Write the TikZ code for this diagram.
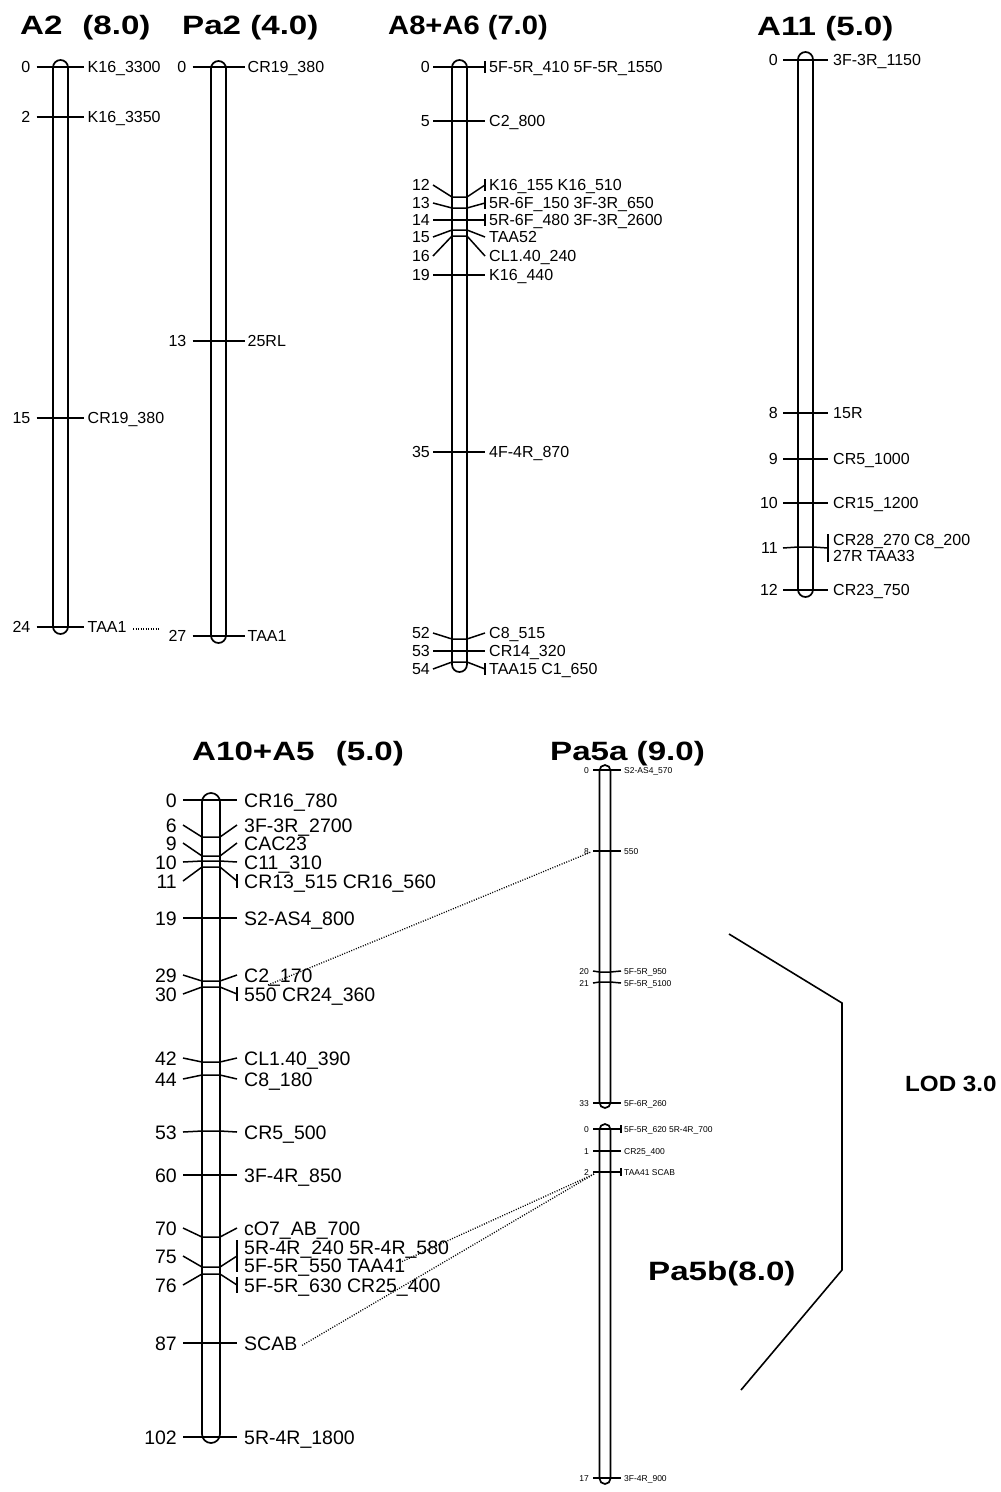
\documentclass[tikz,border=0pt]{standalone}
\usepackage{fontspec}
\setmainfont{Liberation Sans}
\newfontfamily\titlefont{Liberation Sans}[FakeStretch=1.25]
\newfontfamily\titlefontn{Liberation Sans}[FakeStretch=1.1]
\newfontfamily\lodfont{Liberation Sans}[FakeStretch=1.1]
\newcommand\mk[6]{%
  \draw[tick] (\mcx-\mtl,#3) -- (\mcx-\mhw,#2) -- (\mcx+\mhw,#2) -- (\mcx+\mtr,#3);
  \node[curnum] (n#1) at (\mcx-\mtl-\mng,#3) {#4};
  \ifnum#6>0\relax \draw[tick] (\mcx+\mtr,#3-#6) -- (\mcx+\mtr,#3+#6);\fi
  \node[curlab] (l#1) at (\mcx+\mtr+\mlg,#3) {#5};
}
\newcommand\chrpar[7]{\def\mcx{#1}\def\mhw{#2}\def\mtl{#3}\def\mng{#4}\def\mtr{#5}\def\mlg{#6}%
  \tikzset{curnum/.style={num#7}, curlab/.style={lab#7}}}
\begin{document}
\begin{tikzpicture}[x=1pt,y=-1pt,
  chrbar/.style={draw, line width=1.7pt, inner sep=0pt},
  tick/.style={line width=1.5pt},
  numA/.style={font=\fontsize{16}{16}\selectfont, inner sep=0pt, text height=11.5pt, text depth=0pt, anchor=east},
  labA/.style={font=\fontsize{16}{16}\selectfont, inner sep=0pt, text height=11.5pt, text depth=0pt, anchor=west},
  numB/.style={font=\fontsize{19.5}{19.5}\selectfont, inner sep=0pt, text height=14pt, text depth=0pt, anchor=east},
  labB/.style={font=\fontsize{19.5}{19.5}\selectfont, inner sep=0pt, text height=14pt, text depth=0pt, anchor=west},
  numC/.style={font=\fontsize{8.5}{8.5}\selectfont, inner sep=0pt, text height=6.1pt, text depth=0pt, anchor=east},
  labC/.style={font=\fontsize{8.5}{8.5}\selectfont, inner sep=0pt, text height=6.1pt, text depth=0pt, anchor=west},
  title/.style={font=\titlefont\bfseries\fontsize{26.5}{26.5}\selectfont, inner sep=0pt, anchor=base west},
  titlen/.style={font=\titlefontn\bfseries\fontsize{26.5}{26.5}\selectfont, inner sep=0pt, anchor=base west},
  lodst/.style={font=\lodfont\bfseries\fontsize{22}{22}\selectfont, inner sep=0pt, anchor=base west},
  dots/.style={line width=1.3pt, dash pattern=on 1pt off 1.5pt},
  lodline/.style={line width=1.6pt}
]
\useasboundingbox (0,0) rectangle (1001,1492);

% titles
\node[title] (t-a2) at (20,34) {A2\hspace{.75em}(8.0)};
\node[title] (t-p2) at (182,34) {Pa2 (4.0)};
\node[titlen] (t-a8) at (388,34) {A8+A6 (7.0)};
\node[title] (t-a11) at (757,35) {A11 (5.0)};
\node[title] (t-a10) at (192,760) {A10+A5\hspace{.8em}(5.0)};
\node[title] (t-p5a) at (550,760) {Pa5a (9.0)};
\node[title] (t-p5b) at (648,1280) {Pa5b(8.0)};
\node[lodst] (t-lod) at (905,1091) {LOD 3.0};

% bars
\node[chrbar, rounded corners=7.5pt, minimum width=15pt, minimum height=574pt] (a2bar) at (60.5,347) {};
\node[chrbar, rounded corners=7.5pt, minimum width=15pt, minimum height=582pt] (p2bar) at (218.5,352) {};
\node[chrbar, rounded corners=7.5pt, minimum width=15pt, minimum height=612pt] (a8bar) at (459.5,366) {};
\node[chrbar, rounded corners=7.5pt, minimum width=15pt, minimum height=545pt] (a11bar) at (805.5,324.5) {};
\node[chrbar, rounded corners=9pt, minimum width=18pt, minimum height=650pt] (a10bar) at (211,1118) {};
\node[chrbar, rounded corners=5.5pt, minimum width=11pt, minimum height=343pt] (p5abar) at (605,936.5) {};
\node[chrbar, rounded corners=5.5pt, minimum width=11pt, minimum height=360pt] (p5bbar) at (605,1304) {};

% A2
\chrpar{60.5}{7.5}{24}{6}{23}{4}{A}
\mk{a2-0}{67}{67}{0}{K16\_3300}{0}
\mk{a2-2}{117}{117}{2}{K16\_3350}{0}
\mk{a2-15}{418}{418}{15}{CR19\_380}{0}
\mk{a2-24}{627}{627}{24}{TAA1}{0}

% Pa2
\chrpar{218.5}{7.5}{26}{6}{26}{3}{A}
\mk{p2-0}{67}{67}{0}{CR19\_380}{0}
\mk{p2-13}{341}{341}{13}{25RL}{0}
\mk{p2-27}{636}{636}{27}{TAA1}{0}

% A8+A6
\chrpar{459.5}{7.5}{26.5}{3}{25.5}{4}{A}
\mk{a8-0}{67}{67}{0}{5F-5R\_410 5F-5R\_1550}{6}
\mk{a8-5}{121}{121}{5}{C2\_800}{0}
\mk{a8-12}{197}{185}{12}{K16\_155 K16\_510}{6}
\mk{a8-13}{208}{203}{13}{5R-6F\_150 3F-3R\_650}{6}
\mk{a8-14}{220}{220}{14}{5R-6F\_480 3F-3R\_2600}{6}
\mk{a8-15}{230}{237}{15}{TAA52}{0}
\mk{a8-16}{236}{256}{16}{CL1.40\_240}{0}
\mk{a8-19}{275}{275}{19}{K16\_440}{0}
\mk{a8-35}{452}{452}{35}{4F-4R\_870}{0}
\mk{a8-52}{639}{633}{52}{C8\_515}{0}
\mk{a8-53}{651}{651}{53}{CR14\_320}{0}
\mk{a8-54}{662}{669}{54}{TAA15 C1\_650}{6}

% A11
\chrpar{805.5}{7.5}{22.5}{5}{22.5}{5}{A}
\mk{a11-0}{60}{60}{0}{3F-3R\_1150}{0}
\mk{a11-8}{413}{413}{8}{15R}{0}
\mk{a11-9}{459}{459}{9}{CR5\_1000}{0}
\mk{a11-10}{503}{503}{10}{CR15\_1200}{0}
\mk{a11-11}{547}{548}{11}{}{14}
\node[labA] (la11-11a) at (833,540) {CR28\_270 C8\_200};
\node[labA] (la11-11b) at (833,556) {27R TAA33};
\mk{a11-12}{590}{590}{12}{CR23\_750}{0}

% A10+A5
\chrpar{211}{9}{28}{6}{26}{7}{B}
\mk{a10-0}{800}{800}{0}{CR16\_780}{0}
\mk{a10-6}{837}{825}{6}{3F-3R\_2700}{0}
\mk{a10-9}{856}{843}{9}{CAC23}{0}
\mk{a10-10}{861}{862}{10}{C11\_310}{0}
\mk{a10-11}{867}{881}{11}{CR13\_515 CR16\_560}{7}
\mk{a10-19}{918}{918}{19}{S2-AS4\_800}{0}
\mk{a10-29}{981}{975}{29}{C2\_170}{0}
\mk{a10-30}{987}{994}{30}{550 CR24\_360}{7}
\mk{a10-42}{1062}{1058}{42}{CL1.40\_390}{0}
\mk{a10-44}{1075}{1079}{44}{C8\_180}{0}
\mk{a10-53}{1131}{1132}{53}{CR5\_500}{0}
\mk{a10-60}{1175}{1175}{60}{3F-4R\_850}{0}
\mk{a10-70}{1237}{1228}{70}{cO7\_AB\_700}{0}
\mk{a10-75}{1267}{1256}{75}{}{16}
\node[labB] (la10-75a) at (244,1247) {5R-4R\_240 5R-4R\_580};
\node[labB] (la10-75b) at (244,1265) {5F-5R\_550 TAA41};
\mk{a10-76}{1274}{1285}{76}{5F-5R\_630 CR25\_400}{8}
\mk{a10-87}{1343}{1343}{87}{SCAB}{0}
\mk{a10-102}{1437}{1437}{102}{5R-4R\_1800}{0}

% Pa5a
\chrpar{605}{5.5}{12}{4}{16}{3}{C}
\mk{p5a-0}{770}{770}{0}{S2-AS4\_570}{0}
\mk{p5a-8}{851}{851}{8}{550}{0}
\mk{p5a-20}{972}{971}{20}{5F-5R\_950}{0}
\mk{p5a-21}{982}{983}{21}{5F-5R\_5100}{0}
\mk{p5a-33}{1103}{1103}{33}{5F-6R\_260}{0}

% Pa5b
\chrpar{605}{5.5}{12}{4}{16}{3}{C}
\mk{p5b-0}{1129}{1129}{0}{5F-5R\_620 5R-4R\_700}{4}
\mk{p5b-1}{1151}{1151}{1}{CR25\_400}{0}
\mk{p5b-2}{1172}{1172}{2}{TAA41 SCAB}{4}
\mk{p5b-17}{1478}{1478}{17}{3F-4R\_900}{0}

% dotted connections
\coordinate (taa1a) at (133,629);
\coordinate (taa1b) at (159,629);
\draw[dots] (taa1a) -- (taa1b);
\coordinate (c550a) at (268,985);
\coordinate (c550b) at (591,852);
\draw[dots] (c550a) -- (c550b);
\coordinate (c2b) at (594,1174);
\coordinate (ctaa41) at (401,1262);
\coordinate (cscab) at (301,1346);
\draw[dots] (c2b) -- (ctaa41);
\draw[dots] (c2b) -- (cscab);

% LOD bracket
\coordinate (lod1) at (729,934);
\coordinate (lod2) at (842,1003);
\coordinate (lod3) at (842,1270);
\coordinate (lod4) at (741,1390);
\draw[lodline] (lod1) -- (lod2) -- (lod3) -- (lod4);
\end{tikzpicture}
\end{document}
